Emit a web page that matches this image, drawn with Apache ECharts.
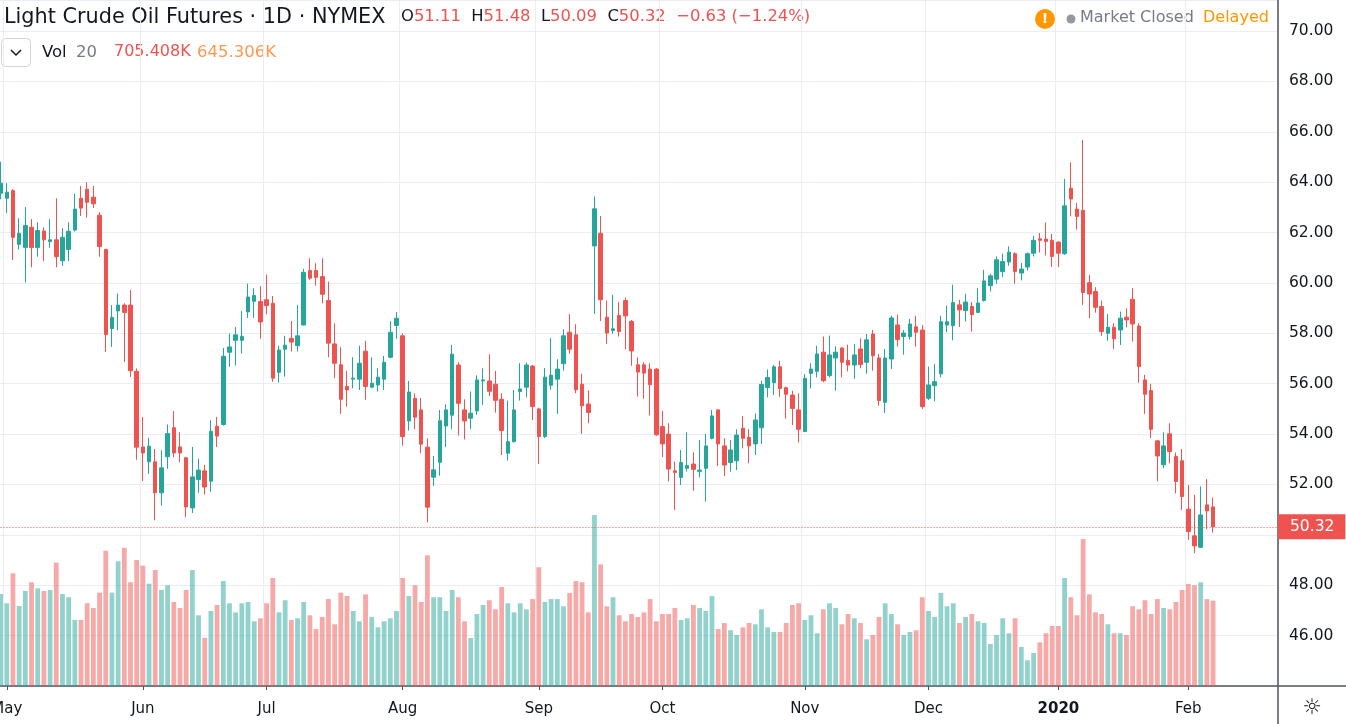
<!DOCTYPE html>
<html>
<head>
<meta charset="utf-8">
<title>Light Crude Oil Futures</title>
<script src="https://cdn.jsdelivr.net/npm/echarts@6/dist/echarts.min.js"></script>
<style>
  html, body { margin: 0; padding: 0; background: #fff; }
  #main { width: 1346px; height: 724px; }
</style>
</head>
<body>
<div id="main"></div>
<script>
// trading sessions, grouped by month (holidays left out)
const sessions = [
  ['2019-04', [30]],
  ['2019-05', [1,2,3,6,7,8,9,10,13,14,15,16,17,20,21,22,23,24,28,29,30,31]],
  ['2019-06', [3,4,5,6,7,10,11,12,13,14,17,18,19,20,21,24,25,26,27,28]],
  ['2019-07', [1,2,3,5,8,9,10,11,12,15,16,17,18,19,22,23,24,25,26,29,30,31]],
  ['2019-08', [1,2,5,6,7,8,9,12,13,14,15,16,19,20,21,22,23,26,27,28,29,30]],
  ['2019-09', [3,4,5,6,9,10,11,12,13,16,17,18,19,20,23,24,25,26,27,30]],
  ['2019-10', [1,2,3,4,7,8,9,10,11,14,15,16,17,18,21,22,23,24,25,28,29,30,31]],
  ['2019-11', [1,4,5,6,7,8,11,12,13,14,15,18,19,20,21,22,25,26,27,29]],
  ['2019-12', [2,3,4,5,6,9,10,11,12,13,16,17,18,19,20,23,24,26,27,30,31]],
  ['2020-01', [2,3,6,7,8,9,10,13,14,15,16,17,21,22,23,24,27,28,29,30,31]],
  ['2020-02', [3,4,5,6,7]]
];
const monthNames = ['Jan','Feb','Mar','Apr','May','Jun','Jul','Aug','Sep','Oct','Nov','Dec'];
const emptySlots = 10; // blank space right of the last bar

const opens = [
  63.56,63.36,63.66,61.53,61.41,62.21,61.41,62.06,61.64,61.71,
  60.88,61.33,62.10,63.36,63.72,63.40,62.69,61.33,58.19,58.89,
  59.12,59.12,56.49,53.49,52.90,52.90,51.67,53.10,54.25,53.49,
  53.06,51.07,52.20,52.54,52.13,54.31,54.38,57.25,57.72,57.72,
  58.85,59.27,59.26,59.33,59.19,56.45,57.37,57.80,57.51,58.33,
  60.49,60.49,60.25,59.30,57.58,56.75,55.89,56.18,56.18,57.29,
  55.86,55.95,56.18,57.05,58.31,57.90,54.52,55.42,54.96,53.48,
  52.29,52.88,54.32,54.75,56.74,54.96,54.63,54.92,56.11,56.11,
  55.98,55.38,53.24,53.70,55.69,55.86,56.70,55.00,53.90,55.94,
  56.18,56.79,58.04,57.94,55.98,55.19,61.47,61.97,58.64,58.11,
  58.71,59.30,58.47,56.75,56.75,56.58,56.58,54.30,54.00,52.54,
  52.28,52.64,52.81,52.52,52.64,53.83,54.96,53.53,52.87,52.94,
  54.23,53.87,53.61,54.25,55.85,56.04,56.67,55.84,55.55,54.96,
  54.10,56.41,56.49,57.25,56.32,57.02,57.42,56.92,56.74,57.38,
  56.85,57.97,57.02,55.26,56.98,58.33,57.87,57.87,58.26,58.13,
  55.42,55.92,56.39,58.33,58.30,59.13,58.91,59.07,58.83,59.30,
  59.89,60.15,60.45,60.83,61.16,60.39,60.63,61.18,61.75,61.74,
  61.69,61.62,61.16,63.76,62.93,62.88,60.01,59.66,59.06,58.00,
  58.24,58.13,58.64,59.35,58.29,56.15,55.73,53.73,52.78,54.01,
  53.11,52.94,51.02,49.96,49.51,51.19,51.11
];
const highs = [
  64.81,63.96,63.72,62.57,63.01,62.53,62.41,62.21,62.53,63.36,
  62.17,62.41,63.54,63.85,64.00,63.85,62.81,61.35,59.12,59.58,
  59.19,59.72,56.60,54.68,53.85,53.41,53.36,54.38,54.91,54.07,
  53.10,53.49,53.02,52.78,54.55,54.68,57.42,57.99,58.25,58.88,
  59.97,59.79,59.87,60.33,59.48,57.51,57.90,58.49,59.13,60.56,
  60.98,60.78,60.98,60.05,58.40,57.45,56.51,57.05,57.51,57.70,
  57.05,56.61,57.10,58.49,58.84,58.00,56.11,55.62,55.43,53.83,
  53.13,54.96,55.18,57.54,56.85,55.38,55.69,56.33,56.61,57.17,
  56.51,55.62,55.33,55.75,56.81,56.84,56.74,55.05,56.62,57.81,
  56.97,58.16,58.76,58.36,56.39,55.73,63.43,62.66,59.30,59.53,
  59.24,59.42,58.53,57.05,56.85,56.81,56.62,54.92,54.43,52.91,
  53.37,54.07,53.28,53.76,54.00,54.96,54.98,53.83,53.76,54.19,
  54.72,54.19,54.82,56.12,56.57,56.74,56.91,55.88,55.72,55.62,
  56.38,56.81,57.51,57.87,57.91,57.48,57.44,57.55,57.58,57.80,
  57.97,58.13,57.18,57.38,58.70,58.74,58.13,58.57,58.70,58.33,
  56.68,56.78,58.70,59.10,59.93,59.33,59.57,59.24,59.79,60.52,
  60.36,61.05,61.16,61.45,61.22,60.79,61.21,61.87,61.98,62.40,
  61.94,61.64,64.13,64.79,63.17,65.68,60.32,59.83,59.30,58.77,
  58.40,58.86,58.99,59.79,58.40,56.35,55.99,53.77,54.07,54.43,
  53.27,53.41,51.98,51.59,51.92,52.21,51.48
];
const lows = [
  63.32,62.77,60.91,61.33,60.01,60.62,61.04,60.86,61.40,60.62,
  60.68,60.86,62.04,62.66,62.59,62.97,61.04,57.26,57.46,58.12,
  56.86,56.27,52.98,52.13,52.42,50.58,51.16,52.62,53.08,52.88,
  50.71,50.87,51.67,51.60,51.71,53.49,54.34,56.67,56.72,57.20,
  58.61,58.61,57.78,58.75,56.08,56.04,56.28,57.28,57.28,58.31,
  60.12,59.89,59.19,57.05,56.22,54.80,55.09,55.82,55.75,55.36,
  55.82,55.69,55.75,57.01,57.78,53.54,54.14,54.19,53.24,50.50,
  51.94,52.35,53.48,54.19,53.94,53.79,54.20,54.76,55.16,55.51,
  54.85,53.17,52.95,53.66,55.33,55.46,54.56,52.81,53.84,55.76,
  54.80,56.52,57.19,55.62,54.01,54.43,58.77,58.49,57.58,57.98,
  57.87,57.37,56.71,55.49,55.40,54.74,53.93,53.08,52.12,50.99,
  51.98,52.51,51.75,52.28,51.32,53.79,52.73,52.34,52.51,52.57,
  53.43,52.84,53.17,53.61,55.46,55.55,55.48,54.61,54.36,53.66,
  54.08,55.81,56.25,56.06,56.25,55.72,56.25,56.49,56.19,56.61,
  56.39,56.52,55.13,54.84,56.58,57.47,57.15,57.75,57.47,55.00,
  55.35,55.30,56.25,58.04,57.72,58.25,58.47,58.07,58.80,59.26,
  59.66,59.97,60.23,60.68,59.97,60.10,60.49,61.05,61.21,61.09,
  60.63,60.63,61.12,62.64,62.11,59.13,58.60,58.82,57.90,57.71,
  57.37,57.54,58.24,57.67,56.04,54.80,53.84,52.12,52.65,52.84,
  51.65,50.99,49.80,49.27,49.48,50.22,50.09
];
const closes = [
  63.96,63.60,61.81,61.97,62.28,61.41,62.08,61.71,61.71,61.04,
  61.81,62.05,62.93,62.97,63.20,63.14,61.44,57.95,58.63,59.12,
  58.83,56.51,53.48,53.25,53.52,51.67,52.66,54.02,53.25,53.25,
  51.11,52.30,52.57,51.90,54.11,53.92,57.09,57.46,57.94,57.88,
  59.44,59.50,58.45,59.10,56.22,57.34,57.53,57.65,57.90,60.42,
  60.19,60.22,59.55,57.61,56.81,55.38,55.75,56.22,56.81,55.89,
  56.02,56.26,56.85,58.04,58.60,53.90,55.67,54.67,53.60,51.10,
  52.58,54.53,54.96,57.17,55.22,54.52,54.83,56.15,56.15,55.70,
  55.34,54.14,53.70,54.96,55.79,56.74,55.09,53.90,56.26,56.34,
  56.58,57.90,57.37,55.76,55.12,54.86,62.94,59.33,58.01,58.18,
  58.07,58.69,57.30,56.46,56.42,55.96,53.97,53.61,52.61,52.48,
  52.87,52.75,52.60,52.57,53.53,54.72,53.61,52.77,53.37,53.96,
  53.83,53.53,54.56,55.97,56.25,56.67,55.81,55.58,55.02,54.19,
  56.21,56.58,57.18,56.12,57.14,57.25,56.85,56.74,57.14,56.76,
  57.74,57.11,55.33,57.02,58.61,57.75,58.01,58.37,58.04,55.09,
  55.95,56.08,58.46,58.46,59.22,58.93,59.24,58.74,59.20,60.08,
  60.28,60.92,60.85,61.22,60.45,60.55,61.16,61.69,61.69,61.65,
  61.05,61.18,63.06,63.33,62.64,59.62,59.56,59.03,58.07,58.24,
  57.78,58.60,58.53,58.37,56.68,55.58,54.19,53.13,53.53,53.31,
  52.12,51.52,50.13,49.56,50.79,50.95,50.32
];
// volume in thousands of contracts
const volumes = [
  761,684,932,662,786,858,808,786,794,1020,
  761,734,546,546,684,645,772,1119,772,1031,
  1144,858,1042,995,846,959,794,833,695,645,
  794,959,585,399,620,670,868,684,609,684,
  695,535,560,684,893,609,709,546,560,695,
  585,471,571,719,510,772,744,620,535,758,
  571,485,535,560,620,893,744,833,695,1081,
  734,734,620,794,734,535,397,595,670,709,
  634,819,684,609,684,634,719,982,695,719,
  719,659,769,868,858,609,1414,1006,659,734,
  585,535,595,571,609,719,535,595,595,645,
  546,560,670,645,620,744,471,521,461,422,
  485,521,510,634,485,447,447,521,670,684,
  546,585,436,634,684,645,510,595,560,521,
  386,422,571,684,595,510,422,447,461,734,
  620,571,769,659,684,521,571,595,535,521,
  347,422,560,436,560,323,213,273,361,436,
  496,496,893,734,585,1216,758,609,595,510,
  436,436,422,659,634,709,595,719,645,634,
  695,794,844,833,858,719,705.408
];
const volMA20 = 645.306;
const priceTicks = { min: 44, max: 71.23, step: 2 };

const UP = '#26a69a', DOWN = '#ef5350';
const UP_VOL = 'rgba(38,166,154,0.5)', DOWN_VOL = 'rgba(239,83,80,0.5)';
const FONT = '"DejaVu Sans", Verdana, sans-serif';
const INK = '#131722', MUTED = '#787b86';

const dates = [];
const monthStart = [];
sessions.forEach(([ym, days], g) => {
  days.forEach((d, k) => {
    dates.push(ym + '-' + String(d).padStart(2, '0'));
    monthStart.push(g > 0 && k === 0);
  });
});
const categories = dates.slice();
for (let i = 1; i <= emptySlots; i++) { categories.push('pad' + i); monthStart.push(false); }

const candles = opens.map((o, i) => [o, closes[i], lows[i], highs[i]]);
const volBars = volumes.map((v, i) => ({
  value: v,
  itemStyle: { color: closes[i] >= opens[i] ? UP_VOL : DOWN_VOL }
}));

const n = closes.length;
const last = { o: opens[n-1], h: highs[n-1], l: lows[n-1], c: closes[n-1] };
const chg = last.c - closes[n-2];
const chgPct = chg / closes[n-2] * 100;
const fmtSigned = v => (v < 0 ? '\u2212' : '+') + Math.abs(v).toFixed(2);

const isTick = idx => monthStart[idx];
const txt = (size, fill, weight) => ({ fontSize: size, fontFamily: FONT, fill: fill, fontWeight: weight || 'normal' });

const chart = echarts.init(document.getElementById('main'));

chart.setOption({
  animation: false,
  backgroundColor: '#ffffff',
  grid: { left: -2.5, right: 68, top: 0, bottom: 38, containLabel: false, outerBoundsMode: 'none' },
  xAxis: {
    type: 'category',
    data: categories,
    boundaryGap: true,
    axisLine: { lineStyle: { color: '#50535e', width: 1.5 } },
    axisTick: { show: true, alignWithLabel: true, interval: isTick, length: 4, lineStyle: { color: '#50535e' } },
    splitLine: { show: true, interval: isTick, lineStyle: { color: '#eaeef4', width: 1 } },
    axisLabel: {
      interval: isTick,
      margin: 16,
      fontSize: 15,
      fontFamily: FONT,
      color: INK,
      formatter: v => {
        const m = +v.slice(5, 7);
        return m === 1 ? '{yr|' + v.slice(0, 4) + '}' : monthNames[m - 1];
      },
      rich: { yr: { fontSize: 15, fontWeight: 'bold', fontFamily: FONT, color: INK } }
    }
  },
  yAxis: [
    {
      type: 'value',
      position: 'right',
      min: priceTicks.min,
      max: priceTicks.max,
      interval: priceTicks.step,
      axisLine: { show: true, lineStyle: { color: '#50535e', width: 1.5 } },
      axisTick: { show: false },
      splitLine: { lineStyle: { color: '#eaeef4', width: 1 } },
      axisLabel: {
        showMinLabel: false,
        showMaxLabel: false,
        margin: 11,
        fontSize: 15.5,
        fontFamily: FONT,
        color: INK,
        formatter: v => v.toFixed(2)
      }
    },
    {
      type: 'value',
      min: 0,
      max: 5673,
      show: false,
      splitLine: { show: false }
    }
  ],
  series: [
    {
      name: 'Vol',
      type: 'bar',
      yAxisIndex: 1,
      data: volBars,
      barWidth: 4.8,
      z: 1,
      silent: true
    },
    {
      name: 'CL1!',
      type: 'candlestick',
      data: candles,
      barWidth: 4,
      z: 3,
      itemStyle: {
        color: UP, color0: DOWN,
        borderColor: UP, borderColor0: DOWN,
        borderWidth: 1
      }
    },
    {
      // last-price line and tag
      name: 'Last',
      type: 'line',
      data: [],
      color: DOWN,
      z: 4,
      markLine: {
        silent: true,
        symbol: ['none', 'none'],
        data: [{ yAxis: last.c }],
        lineStyle: { color: DOWN, type: [1, 2], width: 1, opacity: 1 },
        label: {
          show: true,
          position: 'end',
          distance: 0,
          formatter: last.c.toFixed(2),
          backgroundColor: DOWN,
          color: '#fff',
          fontSize: 15.5,
          fontFamily: FONT,
          padding: [4, 11, 4, 12],
          lineHeight: 17
        }
      }
    }
  ],
  graphic: [
    { type: 'text', left: 4, top: 7, style: Object.assign({ text: 'Light Crude Oil Futures \u00b7 1D \u00b7 NYMEX' }, txt(20.8, INK)) },
    { type: 'text', left: 401, top: 9, style: {
      text: '{k|O}{v|' + last.o.toFixed(2) + '}  {k|H}{v|' + last.h.toFixed(2) + '}  {k|L}{v|' + last.l.toFixed(2) + '}  {k|C}{v|' + last.c.toFixed(2) + '}  {v|' + fmtSigned(chg) + ' (' + fmtSigned(chgPct) + '%)}',
      fontSize: 16.4, fontFamily: FONT,
      rich: { k: txt(16.4, INK), v: txt(16.4, DOWN) }
    } },
    { type: 'circle', shape: { cx: 1045, cy: 19, r: 10 }, style: { fill: '#ff9800' } },
    { type: 'text', x: 1045, y: 19, style: Object.assign({ text: '!', align: 'center', verticalAlign: 'middle' }, txt(14, '#fff', 'bold')) },
    { type: 'circle', shape: { cx: 1071, cy: 19, r: 4.5 }, style: { fill: '#9598a1' } },
    { type: 'text', left: 1080, top: 10, style: Object.assign({ text: 'Market Closed' }, txt(16, MUTED)) },
    { type: 'text', left: 1203, top: 10, style: Object.assign({ text: 'Delayed' }, txt(16, '#ff9800')) },
    { type: 'rect', shape: { x: 1.5, y: 38.5, width: 29, height: 28, r: 4 }, style: { fill: '#fff', stroke: '#d1d4dc', lineWidth: 1 } },
    { type: 'polyline', shape: { points: [[11, 50], [16, 55], [21, 50]] }, style: { stroke: INK, lineWidth: 1.5, fill: null } },
    { type: 'text', left: 42, top: 44, style: Object.assign({ text: 'Vol' }, txt(16.5, INK)) },
    { type: 'text', left: 76, top: 44, style: Object.assign({ text: '20' }, txt(16.5, MUTED)) },
    { type: 'text', left: 114, top: 44, style: Object.assign({ text: volumes[n-1].toFixed(3) + 'K' }, txt(16, DOWN)) },
    { type: 'text', left: 197, top: 44, style: Object.assign({ text: volMA20.toFixed(3) + 'K' }, txt(16.5, '#ff9850')) },
    { type: 'line', shape: { x1: 1278, y1: 686, x2: 1278, y2: 724 }, style: { stroke: '#50535e', lineWidth: 1.5 } },
    { type: 'line', shape: { x1: 1278, y1: 686, x2: 1346, y2: 686 }, style: { stroke: '#50535e', lineWidth: 1.5 } },
    { type: 'text', x: 1312, y: 708, style: Object.assign({ text: '\u263c', align: 'center', verticalAlign: 'middle' }, txt(22, INK)) }
  ]
});
</script>
</body>
</html>
